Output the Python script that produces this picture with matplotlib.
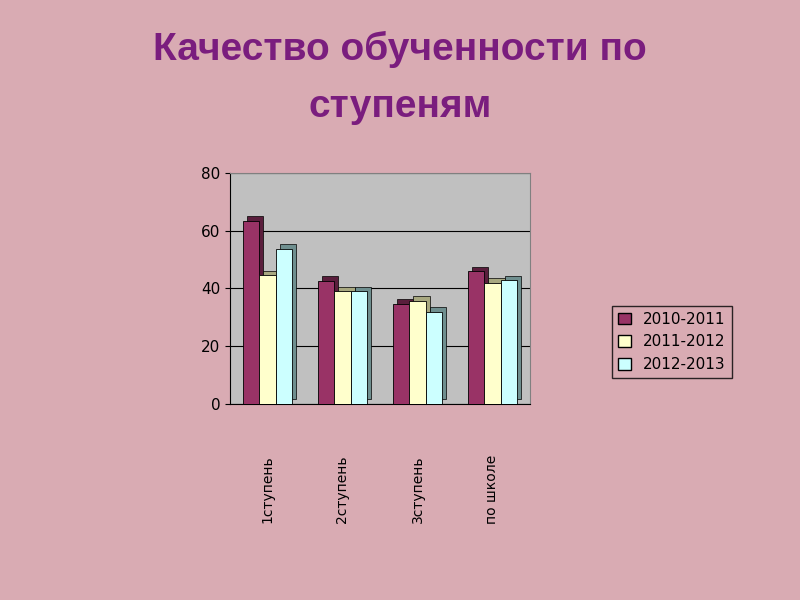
import matplotlib
matplotlib.use("Agg")
import matplotlib.pyplot as plt
import numpy as np
from matplotlib.patches import Patch

categories = ["1ступень", "2ступень", "3ступень", "по школе"]
series_names = ["2010-2011", "2011-2012", "2012-2013"]
v2010 = [63.4, 42.7, 34.7, 46.0]
v2011 = [44.6, 39.0, 35.7, 42.0]
v2012 = [53.7, 39.0, 31.9, 42.9]
values = [v2010, v2011, v2012]
colors = ["#993366", "#ffffcc", "#ccffff"]
side_colors = ["#5a1e3c", "#a8a880", "#6f8f8f"]

fig = plt.figure(figsize=(8, 6), dpi=100)
fig.patch.set_facecolor("#d9abb3")
fig.text(0.5, 0.918, "Качество обученности по", ha="center", va="center",
         fontsize=28, color="#7a1d7e", fontweight="bold", family="Liberation Sans")
fig.text(0.5, 0.822, "ступеням", ha="center", va="center",
         fontsize=28, color="#7a1d7e", fontweight="bold", family="Liberation Sans")

ax = fig.add_axes([0.2875, 0.327, 0.375, 0.385])
ax.set_facecolor("#c0c0c0")
x = np.arange(len(categories))
w = 0.22
for i, (vals, c, sc) in enumerate(zip(values, colors, side_colors)):
    pos = x + (i - 1) * w
    ax.bar(pos + 0.05, vals, w, bottom=1.5, color=sc, edgecolor="black", linewidth=0.5, zorder=2 + i * 2)
    ax.bar(pos, vals, w, color=c, edgecolor="black", linewidth=0.6, zorder=3 + i * 2)
ax.set_ylim(0, 80)
ax.set_xlim(-0.5, 3.5)
ax.set_yticks([0, 20, 40, 60, 80])
ax.yaxis.grid(True, color="black", linewidth=0.8, zorder=0)
ax.set_axisbelow(True)
ax.set_xticks(x)
ax.set_xticklabels(categories, rotation=90, fontsize=10)
ax.tick_params(axis="x", length=0, pad=37)
ax.tick_params(axis="y", labelsize=11)
for s in ["top", "right"]:
    ax.spines[s].set_color("#808080")

handles = [Patch(facecolor=c, edgecolor="black", label=n) for c, n in zip(colors, series_names)]
fig.legend(handles=handles, loc="center", bbox_to_anchor=(0.84, 0.43), fontsize=11,
           frameon=True, edgecolor="black", facecolor="#d9abb3", fancybox=False,
           handlelength=0.8, handleheight=0.8)
fig.savefig("out.png", dpi=100, facecolor=fig.get_facecolor())
